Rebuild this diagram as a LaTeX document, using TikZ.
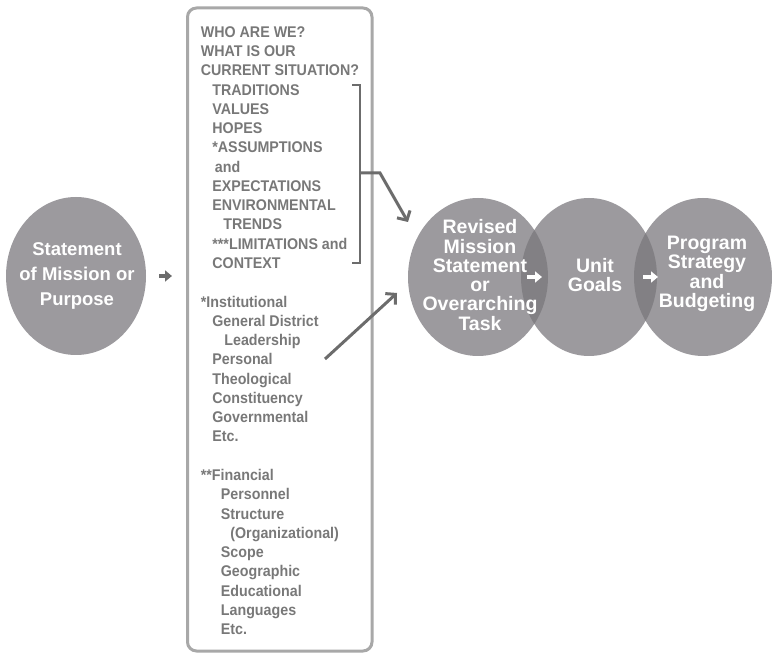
\documentclass[tikz,border=0pt]{standalone}
\usepackage{fontspec}
\setmainfont{Liberation Sans}
\newfontfamily\listfont{Liberation Sans}[FakeStretch=0.92]
\usetikzlibrary{arrows.meta,shapes.geometric}

\definecolor{discfill}{HTML}{9C9A9E}
\definecolor{discdark}{HTML}{828084}
\definecolor{boxline}{HTML}{A8A8A8}
\definecolor{listgray}{HTML}{787878}
\definecolor{linkgray}{HTML}{6C6C6C}

\tikzset{
  disc/.style={ellipse, draw=none, fill=discfill, minimum width=140pt, minimum height=158pt, inner sep=0pt},
  disctext/.style={text=white, align=center, inner sep=0pt, font=\bfseries\fontsize{19.5}{19.3}\selectfont},
  listline/.style={anchor=base west, inner sep=0pt, text=listgray, font=\listfont\bfseries\fontsize{15.5}{15.5}\selectfont},
  framebox/.style={draw=boxline, line width=3pt, rounded corners=9pt, fill=none},
  link/.style={draw=linkgray, line width=3pt, -{Straight Barb[length=7pt,width=15pt]}},
  smallarrow/.style={draw=linkgray, line width=3.2pt, -{Triangle[length=7pt,width=11pt]}},
  whitearrow/.style={draw=white, line width=3.2pt, -{Triangle[length=7pt,width=11pt]}},
  bracketline/.style={draw=linkgray, line width=2.5pt}
}

\begin{document}
\begin{tikzpicture}[x=1pt, y=-1pt]
\useasboundingbox (0,0) rectangle (772,660);

% starting statement
\node[disc] (c0) at (76,276) {};
\node[disctext, font=\bfseries\fontsize{18.5}{25}\selectfont] (t0) at (77,276) {Statement\\of Mission or\\Purpose};

% framed list of questions and factors
\node[framebox, minimum width=184.5pt, minimum height=643pt, inner sep=0pt] (box) at (279.75,329.5) {};

\foreach \k/\ind/\txt in {
  0/0/WHO ARE WE?,
  1/0/WHAT IS OUR,
  2/0/CURRENT SITUATION?,
  3/11.5/TRADITIONS,
  4/11.5/VALUES,
  5/11.5/HOPES,
  6/11.5/*ASSUMPTIONS,
  7/14/and,
  8/11.5/EXPECTATIONS,
  9/11.5/ENVIRONMENTAL,
  10/22.5/TRENDS,
  11/11.5/***LIMITATIONS and,
  12/11.5/CONTEXT,
  14/0/*Institutional,
  15/11.5/General District,
  16/23.5/Leadership,
  17/11.5/Personal,
  18/11.5/Theological,
  19/11.5/Constituency,
  20/11.5/Governmental,
  21/11.5/Etc.,
  23/0/**Financial,
  24/20/Personnel,
  25/20/Structure,
  26/29.5/(Organizational),
  27/20/Scope,
  28/20/Geographic,
  29/20/Educational,
  30/20/Languages,
  31/20/Etc.}
{
  \node[listline] (line\k) at (200.7+\ind, 37.3+19.27*\k) {\txt};
}

% bracket grouping the first list
\coordinate (brtop) at (360,85);
\coordinate (brbot) at (360,263);
\coordinate (brmid) at (360,173);
\draw[bracketline] (352,85) -- (brtop) -- (brbot) -- (352,263);

% result circles
\node[disc] (c1) at (478,277) {};
\node[disc, minimum width=136pt] (c2) at (589,277) {};
\node[disc, minimum width=138pt] (c3) at (703,277) {};

% darker lens where the circles overlap
\begin{scope}
  \clip (478,277) ellipse [x radius=70, y radius=79];
  \fill[discdark] (589,277) ellipse [x radius=68, y radius=79];
\end{scope}
\begin{scope}
  \clip (589,277) ellipse [x radius=68, y radius=79];
  \fill[discdark] (703,277) ellipse [x radius=69, y radius=79];
\end{scope}

\node[disctext] (t1) at (480,275) {Revised\\Mission\\Statement\\or\\Overarching\\Task};
\node[disctext] (t2) at (595,275) {Unit\\Goals};
\node[disctext] (t3) at (707,274) {Program\\Strategy\\and\\Budgeting};

% connectors
\draw[smallarrow, shorten <=13pt, shorten >=14pt] (c0.east) -- (box.west |- c0.east);
\draw[whitearrow, shorten <=49pt, shorten >=47pt] (c1.center) -- (c2.center);
\draw[whitearrow, shorten <=54pt, shorten >=45pt] (c2.center) -- (c3.center);

\coordinate (bend) at (380,173);
\coordinate (tipA) at (408,222);
\draw[link] (brmid) -- (bend) -- (tipA);

\coordinate (tailB) at (325,359);
\coordinate (tipB) at (397,293);
\draw[link] (tailB) -- (tipB);
\end{tikzpicture}
\end{document}
